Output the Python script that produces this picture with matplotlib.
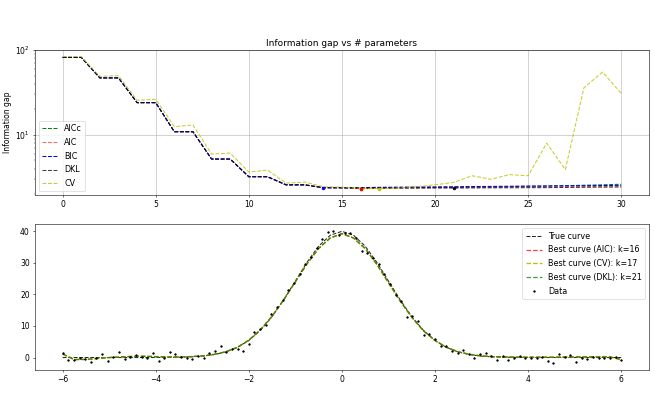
import numpy as np
import matplotlib
matplotlib.use('Agg')
import matplotlib.pyplot as plt

# top panel: information gap for each number of parameters k
k = np.arange(31)
gap_aicc = [82, 82, 47, 47, 24, 24, 10.9, 10.9, 5.2, 5.2, 3.22, 3.22, 2.58, 2.58, 2.39, 2.37,
            2.33, 2.36, 2.37, 2.38, 2.40, 2.41, 2.43, 2.44, 2.46, 2.48, 2.50, 2.52, 2.55, 2.58, 2.62]
gap_aic = [82, 82, 47, 47, 24, 24, 10.9, 10.9, 5.2, 5.2, 3.22, 3.22, 2.58, 2.58, 2.39, 2.37,
           2.32, 2.35, 2.36, 2.37, 2.38, 2.39, 2.40, 2.41, 2.42, 2.43, 2.44, 2.45, 2.46, 2.47, 2.48]
gap_bic = [82, 82, 47, 47, 24, 24, 10.9, 10.9, 5.2, 5.2, 3.22, 3.22, 2.59, 2.59, 2.37, 2.38,
           2.39, 2.41, 2.42, 2.43, 2.44, 2.45, 2.46, 2.47, 2.48, 2.49, 2.50, 2.51, 2.52, 2.53, 2.54]
gap_dkl = [82, 82, 47, 47, 24, 24, 10.9, 10.9, 5.18, 5.18, 3.2, 3.2, 2.56, 2.56, 2.40, 2.39,
           2.385, 2.38, 2.375, 2.37, 2.37, 2.365, 2.37, 2.375, 2.38, 2.385, 2.39, 2.40, 2.41, 2.42, 2.43]
gap_cv = [84, 84, 49, 50, 25.6, 26.3, 12.5, 13.1, 5.95, 6.1, 3.65, 3.85, 2.7, 2.78, 2.45, 2.42,
          2.36, 2.32, 2.37, 2.45, 2.58, 2.75, 3.3, 3.0, 3.4, 3.3, 8.0, 3.9, 36, 55, 31]

# bottom panel: noisy samples of the curve
x_data = np.linspace(-6, 6, 100)
y_data = [1.3, -0.8, -0.9, -0.3, -0.5, -1.3, -0.2, 1.1, -1.1, 0.2,
          1.8, -0.6, 0.2, 0.7, 0.2, -0.3, 1.4, -1.0, -0.3, 1.6,
          1.0, 0.2, -0.1, -0.5, 0.5, -0.2, 1.4, 2.0, 3.8, 1.9,
          2.6, 2.8, 2.0, 4.3, 8.0, 9.1, 10.3, 13.9, 16.0, 18.3,
          21.4, 23.6, 26.6, 29.7, 31.8, 34.6, 37.7, 39.8, 40.1, 38.8,
          39.6, 39.6, 37.8, 33.9, 33.1, 31.5, 29.5, 26.5, 23.2, 19.7,
          17.8, 12.9, 13.1, 11.5, 7.1, 7.4, 6.0, 3.6, 3.6, 2.1,
          1.3, 2.3, 1.0, -0.2, 1.0, 1.3, 0.5, -0.9, 0.5, -0.8,
          0.0, 0.4, 0.0, 0.0, -0.2, 0.3, -1.1, -1.8, 1.0, 0.3,
          0.7, -1.3, -0.2, -0.5, 0.2, 0.0, 0.0, -0.3, 0.3, -0.8]

x_curve = np.arange(-6, 6.01, 0.25)
y_true = [0, 0, 0, 0, 0, 0, 0, 0, 0.01, 0.04, 0.09, 0.20, 0.44, 0.91, 1.76, 3.18, 5.41,
          8.65, 12.99, 18.31, 24.26, 30.19, 35.30, 38.77, 40.0, 38.77, 35.30, 30.19, 24.26,
          18.31, 12.99, 8.65, 5.41, 3.18, 1.76, 0.91, 0.44, 0.20, 0.09, 0.04, 0.01, 0, 0, 0,
          0, 0, 0, 0, 0]
y_aic = [1.0, -0.7, -0.6, -0.3, 0.0, 0.2, 0.4, 0.4, 0.3, 0.2, 0.2, 0.3, 0.5, 1.0, 1.8, 3.2,
         5.5, 8.8, 13.1, 18.3, 24.0, 29.7, 34.6, 37.9, 39.2, 37.9, 34.5, 29.5, 23.7, 17.9,
         12.8, 8.5, 5.4, 3.2, 1.8, 1.0, 0.5, 0.3, 0.2, 0.1, 0.1, 0.1, 0.1, 0.2, 0.2, 0.2,
         0.3, 0.3, -0.8]
y_cv = [1.1, -0.6, -0.6, -0.3, 0.0, 0.2, 0.4, 0.4, 0.3, 0.2, 0.2, 0.3, 0.5, 1.0, 1.8, 3.2,
        5.5, 8.8, 13.1, 18.3, 24.0, 29.7, 34.6, 37.9, 39.3, 37.9, 34.5, 29.5, 23.7, 17.9,
        12.8, 8.5, 5.4, 3.2, 1.8, 1.0, 0.5, 0.3, 0.2, 0.1, 0.1, 0.1, 0.1, 0.2, 0.2, 0.2,
        0.3, 0.2, -0.6]
y_dkl = [1.2, -0.6, -0.6, -0.3, 0.0, 0.2, 0.3, 0.4, 0.3, 0.2, 0.2, 0.3, 0.5, 1.0, 1.8, 3.2,
         5.5, 8.8, 13.1, 18.3, 24.0, 29.7, 34.6, 37.9, 39.3, 37.9, 34.6, 29.6, 23.8, 18.0,
         12.8, 8.5, 5.4, 3.2, 1.8, 1.0, 0.5, 0.3, 0.2, 0.1, 0.1, 0.1, 0.1, 0.1, 0.2, 0.2,
         0.2, 0.2, -0.5]
best_aic, best_cv, best_dkl = 16, 17, 21


def main():
    fig, (ax1, ax2) = plt.subplots(2, 1, figsize=(13.1, 8.32), dpi=50)
    fig.subplots_adjust(left=0.053, right=0.991, top=0.880, bottom=0.111, hspace=0.2)

    series = [(gap_aicc, 'g', 1.0, 'AICc'), (gap_aic, 'r', 0.6, 'AIC'),
              (gap_bic, 'b', 1.0, 'BIC'), (gap_dkl, 'k', 0.75, 'DKL'),
              (gap_cv, 'y', 0.8, 'CV')]
    for vals, c, a, lab in series:
        ax1.plot(k, vals, '--', color=c, alpha=a, label=lab)
    for vals, c, a, lab in series:
        i = int(np.argmin(vals))
        ax1.plot(k[i], vals[i], 'o', color=c, ms=4)
    ax1.set_yscale('log')
    ax1.grid(True)
    ax1.set_title('Information gap vs # parameters', fontsize=13)
    ax1.set_ylabel('Information gap', fontsize=11)
    ax1.tick_params(labelsize=11)
    ax1.legend(loc='lower left', fontsize=11.5, labelspacing=0.6)

    ax2.plot(x_curve, y_true, 'k--', alpha=0.85, label='True curve')
    ax2.plot(x_curve, y_aic, 'r--', alpha=0.75, lw=1.8, label='Best curve (AIC): k=%d' % best_aic)
    ax2.plot(x_curve, y_cv, 'y--', lw=1.8, label='Best curve (CV): k=%d' % best_cv)
    ax2.plot(x_curve, y_dkl, 'g--', alpha=0.75, lw=1.8, label='Best curve (DKL): k=%d' % best_dkl)
    ax2.plot(x_data, y_data, 'k.', ms=4.5, label='Data')
    ax2.tick_params(labelsize=11)
    ax2.legend(loc='upper right', fontsize=11.5, labelspacing=0.6)

    fig.savefig('out.png', dpi=50)


if __name__ == '__main__':
    main()
